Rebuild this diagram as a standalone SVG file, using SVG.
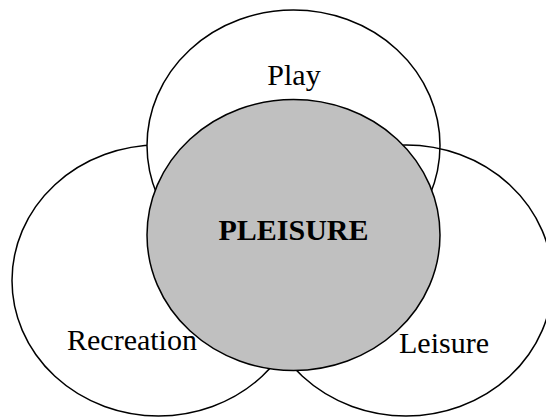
<svg xmlns="http://www.w3.org/2000/svg" width="546" height="417" viewBox="0 0 546 417">
  <style>
    .ring { stroke: #000; stroke-width: 1.5; }
    .outer { fill: #fff; }
    .open { fill: none; }
    .core { fill: #c0c0c0; }
    .label { font-family: "Liberation Serif", "Times New Roman", serif; font-size: 30px; fill: #000; }
    .title { font-weight: bold; }
  </style>
  <rect width="546" height="417" fill="#fff"/>
  <g id="recreation">
    <ellipse class="ring outer" cx="158.5" cy="280.5" rx="146.5" ry="135.5"/>
    <text class="label" x="67" y="350">Recreation</text>
  </g>
  <g id="play">
    <ellipse class="ring outer" cx="293.5" cy="145.5" rx="146.5" ry="135.5"/>
    <text class="label" x="294" y="85" text-anchor="middle">Play</text>
  </g>
  <g id="leisure">
    <ellipse class="ring open" cx="406" cy="280.5" rx="146.5" ry="135.5"/>
    <text class="label" x="399" y="353">Leisure</text>
  </g>
  <g id="pleisure">
    <ellipse class="ring core" cx="293.5" cy="235" rx="146.5" ry="135.5"/>
    <text class="label title" x="293.5" y="240" text-anchor="middle">PLEISURE</text>
  </g>
  <g id="connectors"/>
</svg>
